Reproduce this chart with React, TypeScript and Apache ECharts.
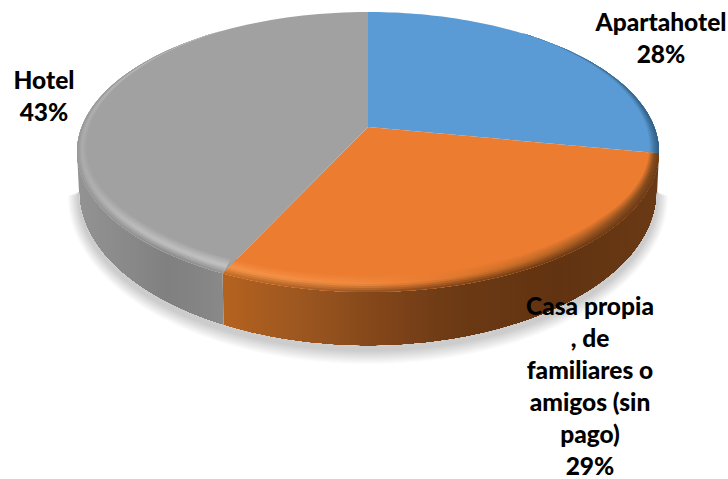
import React, { useEffect, useRef } from "react";
import * as echarts from "echarts";

// Accommodation shares, listed clockwise from twelve o'clock.
const categories = ["Apartahotel", "Casa propia\n, de\nfamiliares o\namigos (sin\npago)", "Hotel"];
const shares = [28, 29, 43];
const faceColors = ["#5B9BD5", "#EC7C30", "#A1A1A1"];

// Colour of each slice's outer wall and bevel highlight, sampled left to right over the disc.
const wallStops: [number, string][][] = [
  [[77, "#2E5A80"], [659, "#2E5A80"]],
  [[226, "#B4621F"], [300, "#9C5720"], [368, "#86481A"], [450, "#6C3A15"], [560, "#623311"], [659, "#6A3A16"]],
  [[77, "#939393"], [120, "#8B8B8B"], [170, "#7F7F7F"], [226, "#8A8A8A"]],
];
const glowStops: [number, string][][] = [
  [[368, "#5B9BD5"], [560, "#5A97CD"], [620, "#4F88B8"], [659, "#3A6E9A"]],
  [[226, "#F6954A"], [368, "#F18A3E"], [450, "#E2792E"], [540, "#BE6825"], [600, "#9A5520"], [659, "#7F4A1C"]],
  [[77, "#ABABAB"], [130, "#BDBDBD"], [226, "#C4C4C4"]],
];

// Disc geometry in page pixels: the rim is an ellipse, and the apex sits above its
// centre because the disc is seen in perspective.
const W = 728;
const H = 479;
const CX = 368;
const CY = 152;
const RX = 291;
const RY = 140;
const APEX_Y = 127;
const FLOOR = { cy: 192, rx: 289, ry: 154 };
const BEVEL = 18;
const SHADOW_REACH = 15;
const labelAnchors = [
  { x: 661, y: 37 },
  { x: 590, y: 385 },
  { x: 44, y: 95 },
];

const toBack = APEX_Y - (CY - RY);
const toFront = CY + RY - APEX_Y;
const K = (toFront - toBack) / (toFront + toBack);
const S = toFront * (1 - K);
const R = RX * Math.sqrt(1 - K * K);

// Point of the tilted circle at a clockwise angle from twelve o'clock.
const project = (a: number): [number, number] => {
  const X = Math.sin(a);
  const Y = -Math.cos(a);
  const w = 1 - K * Y;
  return [CX + (R * X) / w, APEX_Y + (S * Y) / w];
};
const rimParam = (a: number) => {
  const [x, y] = project(a);
  return Math.atan2((y - CY) / RY, (x - CX) / RX);
};

const hex = (c: string) => [1, 3, 5].map((i) => parseInt(c.slice(i, i + 2), 16));
const mix = (a: string, b: string, t: number) => {
  const p = hex(a);
  const q = hex(b);
  const v = p.map((n, i) => Math.round(n + (q[i] - n) * t));
  return "#" + v.map((n) => n.toString(16).padStart(2, "0")).join("");
};
const stopAt = (stops: [number, string][], x: number) => {
  if (x <= stops[0][0]) return stops[0][1];
  for (let i = 1; i < stops.length; i++) {
    if (x <= stops[i][0]) {
      const t = (x - stops[i - 1][0]) / (stops[i][0] - stops[i - 1][0]);
      return mix(stops[i - 1][1], stops[i][1], t);
    }
  }
  return stops[stops.length - 1][1];
};
const horizontal = (colorAt: (x: number) => string) => {
  const colorStops = [];
  for (let x = 77; x <= 659; x += 30) {
    colorStops.push({ offset: (x - 77) / 582, color: colorAt(x) });
  }
  return { type: "linear", x: 77, y: 0, x2: 659, y2: 0, global: true, colorStops };
};

// Bevel width shrinks towards the back of the disc.
const taper = (t: number) => Math.min(1, Math.max(0, (Math.sin(t) + 0.85) / 1.4));
const rimPoint = (t: number, depth: number): [number, number] => {
  const d = depth * taper(t);
  return [CX + (RX - d) * Math.cos(t), CY + (RY - d) * Math.sin(t)];
};
const floorPoint = (t: number): [number, number] => [
  CX + FLOOR.rx * Math.cos(t),
  FLOOR.cy + FLOOR.ry * Math.sin(t),
];
const sampled = (from: number, to: number, n: number) =>
  Array.from({ length: n + 1 }, (_, i) => from + ((to - from) * i) / n);

const total = shares.reduce((a, b) => a + b, 0);
const sliceSpan = (index: number) => {
  const before = shares.slice(0, index).reduce((a, b) => a + b, 0);
  return [(before / total) * 2 * Math.PI, ((before + shares[index]) / total) * 2 * Math.PI];
};

const bevelColor = (i: number, depth: number, x: number) => {
  const glow = stopAt(glowStops[i], x);
  const face = faceColors[i];
  const u = depth / BEVEL;
  if (u >= 0.5) return mix(glow, face, (u - 0.5) / 0.5);
  const wall = stopAt(wallStops[i], x);
  return mix(wall, glow, u / 0.5);
};

// Soft ground shadow: crescents hugging the lower edge, palest and widest first.
const shadowBands = () => {
  const ts = sampled(0, Math.PI, 120);
  const bands: any[] = [];
  for (let d = SHADOW_REACH; d >= 1; d--) {
    const outer = ts.map((t) => [
      CX + (FLOOR.rx + d * 0.8) * Math.cos(t),
      FLOOR.cy + 4 + (FLOOR.ry + d) * Math.sin(t),
    ]);
    const inner = ts.slice().reverse().map((t) => floorPoint(t));
    bands.push({
      type: "polygon",
      shape: { points: [...outer, ...inner] },
      style: { fill: mix("#FFFFFF", "#C8C8C8", 1 - d / SHADOW_REACH) },
    });
  }
  return bands;
};

const renderSlice = (params: any) => {
  const i = params.dataIndex;
  const [start, end] = sliceSpan(i);
  const children: any[] = [];

  // Outer wall: only the part that faces the viewer.
  const tStart = rimParam(start);
  let tEnd = rimParam(end);
  if (tEnd < tStart) tEnd += 2 * Math.PI;
  const wallFrom = Math.max(tStart, 0);
  const wallTo = Math.min(tEnd, Math.PI);
  if (wallTo > wallFrom) {
    const ts = sampled(wallFrom, wallTo, 60);
    children.push({
      type: "polygon",
      shape: { points: [...ts.map((t) => rimPoint(t, 0)), ...ts.slice().reverse().map(floorPoint)] },
      style: { fill: horizontal((x) => stopAt(wallStops[i], x)) },
    });
  }

  // Flat top of the slice, fanned out from the apex.
  const arc = sampled(start, end, 80).map(project);
  children.push({
    type: "polygon",
    shape: { points: [[CX, APEX_Y], ...arc] },
    style: { fill: faceColors[i] },
  });

  // Rounded edge: strips painted from the innermost out to the rim.
  const ts = sampled(tStart, tEnd, 80);
  for (let depth = BEVEL; depth >= 2; depth -= 2) {
    children.push({
      type: "polygon",
      shape: {
        points: [...ts.map((t) => rimPoint(t, depth)), ...ts.slice().reverse().map((t) => rimPoint(t, 0))],
      },
      style: { fill: horizontal((x) => bevelColor(i, depth, x)) },
    });
  }
  if (i === shares.length - 1) children.push(...shadowBands());
  return { type: "group", children };
};

const renderLabel = (params: any, api: any) => {
  const i = params.dataIndex;
  return {
    type: "text",
    style: {
      x: labelAnchors[i].x,
      y: labelAnchors[i].y,
      text: `${categories[i]}\n${api.value(0)}%`,
      textAlign: "center",
      textVerticalAlign: "middle",
      font: "900 24.5px Lato",
      lineHeight: 32,
      fill: "#000000",
    },
  };
};

export default function App() {
  const ref = useRef<HTMLDivElement>(null);
  useEffect(() => {
    const chart = echarts.init(ref.current!, null, { renderer: "svg" });
    const data = shares.map((v) => [v]);
    chart.setOption({
      animation: false,
      backgroundColor: "#FFFFFF",
      series: [
        { type: "custom", coordinateSystem: "none", silent: true, z: 2, data, renderItem: renderSlice },
        { type: "custom", coordinateSystem: "none", silent: true, z: 3, data, renderItem: renderLabel },
      ],
    });
    return () => chart.dispose();
  }, []);
  return <div ref={ref} style={{ position: "fixed", left: 0, top: 0, width: W, height: H }} />;
}
